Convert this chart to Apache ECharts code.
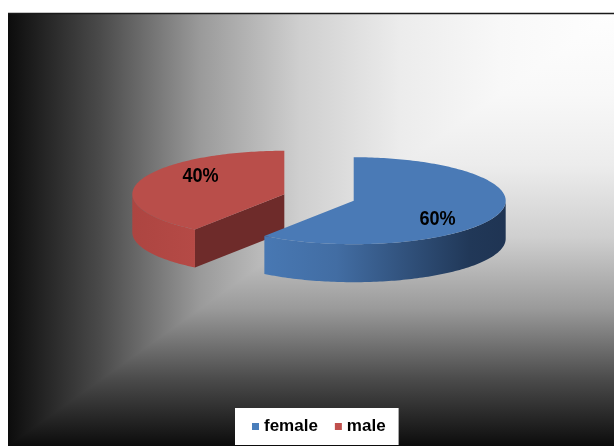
<!DOCTYPE html>
<html><head><meta charset="utf-8">
<script src="https://cdn.jsdelivr.net/npm/echarts@6/dist/echarts.min.js"></script>
<style>html,body{margin:0;padding:0;background:#fff}#c{width:614px;height:446px}</style>
</head><body><div id="c"></div>
<script>
// ---- data ----
const categories = ['female', 'male'];
const values = [60, 40];
const total = values.reduce((a, b) => a + b, 0);
const pctLabels = values.map(v => Math.round(v / total * 100) + '%');

// ---- layout / style ----
const GEO = {cx: 319, cy: 197.5, rx: 152, ry: 43.5, h: 38, explode: 0.24};
const legendColors = ['#4a7ebb', '#c0504d'];
const topColors = ['#4a7ab6', '#b94e4a'];
const cutColors = ['#2c4a70', '#6e2b2a'];
const sideStops = [
  [[0, '#4878b3'], [0.3, '#426da3'], [0.6, '#30507a'], [0.85, '#213858'], [1, '#1f3453']],
  [[0, '#ad4541'], [1, '#b54a46']]
];
const bgStops = [
  {offset: 0, color: '#fefefe'}, {offset: 0.188, color: '#f8f8f8'}, {offset: 0.353, color: '#ececec'},
  {offset: 0.518, color: '#cfcfcf'}, {offset: 0.683, color: '#9a9a9a'}, {offset: 0.848, color: '#4a4a4a'},
  {offset: 1, color: '#0c0c0c'}
];

function renderSlice(params, api) {
  const i = api.value(1);
  const before = values.slice(0, i).reduce((a, b) => a + b, 0);
  const a0 = before / total * 2 * Math.PI;
  const a1 = (before + api.value(0)) / total * 2 * Math.PI;
  const mid = (a0 + a1) / 2;
  const cx = GEO.cx + GEO.explode * GEO.rx * Math.sin(mid);
  const cy = GEO.cy - GEO.explode * GEO.ry * Math.cos(mid);
  const P = (t, dz) => [cx + GEO.rx * Math.sin(t), cy - GEO.ry * Math.cos(t) + dz];
  const arc = (t0, t1, dz) => {
    const n = Math.max(2, Math.ceil((t1 - t0) / 0.02));
    const pts = [];
    for (let k = 0; k <= n; k++) pts.push(P(t0 + (t1 - t0) * k / n, dz));
    return pts;
  };
  const children = [];
  [[a0, -Math.sin(a0)], [a1, Math.sin(a1)]].forEach(([t, ny]) => {
    if (ny > 0.01) {
      const p = P(t, 0);
      children.push({type: 'polygon', shape: {points: [[cx, cy], p, [p[0], p[1] + GEO.h], [cx, cy + GEO.h]]},
        style: {fill: cutColors[i]}});
    }
  });
  const s0 = Math.max(a0, Math.PI / 2), s1 = Math.min(a1, 1.5 * Math.PI);
  if (s1 > s0) {
    const top = arc(s0, s1, 0), bot = arc(s0, s1, GEO.h).reverse();
    const xs = top.map(p => p[0]);
    const xmin = Math.min(...xs), xmax = Math.max(...xs);
    const fill = new echarts.graphic.LinearGradient(xmin, 0, xmax, 0,
      sideStops[i].map(s => ({offset: s[0], color: s[1]})), true);
    children.push({type: 'polygon', shape: {points: top.concat(bot)}, style: {fill: fill}});
  }
  children.push({type: 'polygon', shape: {points: [[cx, cy]].concat(arc(a0, a1, 0))}, style: {fill: topColors[i]}});
  children.push({type: 'text', x: cx + 0.58 * GEO.rx * Math.sin(mid), y: cy - 1.35 * GEO.ry * Math.cos(mid), scaleX: 0.86,
    style: {text: pctLabels[i], x: 0, y: 0, align: 'center', verticalAlign: 'middle', fill: '#000',
      fontSize: 21, fontWeight: 'bold', fontFamily: 'Liberation Sans'}});
  return {type: 'group', children: children};
}

const chart = echarts.init(document.getElementById('c'), null, {renderer: 'canvas'});
const order = [1, 0]; // draw male first, female on top
chart.setOption({
  animation: false,
  backgroundColor: '#ffffff',
  graphic: [
    {type: 'rect', z: -10, silent: true, shape: {x: 8, y: 13, width: 606, height: 433},
      style: {fill: new echarts.graphic.LinearGradient(614, 0, 8, 0, bgStops, true)}},
    {type: 'polygon', z: -9, silent: true, shape: {points: [[614, 13], [614, 446], [8, 446]]},
      style: {fill: new echarts.graphic.LinearGradient(0, 13, 0, 446, bgStops, true)}},
    {type: 'line', z: -8, silent: true, shape: {x1: 8, y1: 13.5, x2: 614, y2: 13.5},
      style: {stroke: '#1a1a1a', lineWidth: 1.5}}
  ],
  legend: {
    data: categories,
    left: 235, top: 408,
    backgroundColor: '#ffffff',
    padding: [10, 13, 10, 17],
    itemWidth: 7, itemHeight: 7, itemGap: 17,
    icon: 'rect',
    selectedMode: false,
    textStyle: {fontFamily: 'Liberation Sans', fontWeight: 'bold', fontSize: 17, color: '#000'}
  },
  series: order.map(i => ({
    type: 'custom',
    name: categories[i],
    coordinateSystem: 'none',
    silent: true,
    itemStyle: {color: legendColors[i]},
    renderItem: renderSlice,
    data: [[values[i], i]]
  }))
});
</script>
</body></html>
